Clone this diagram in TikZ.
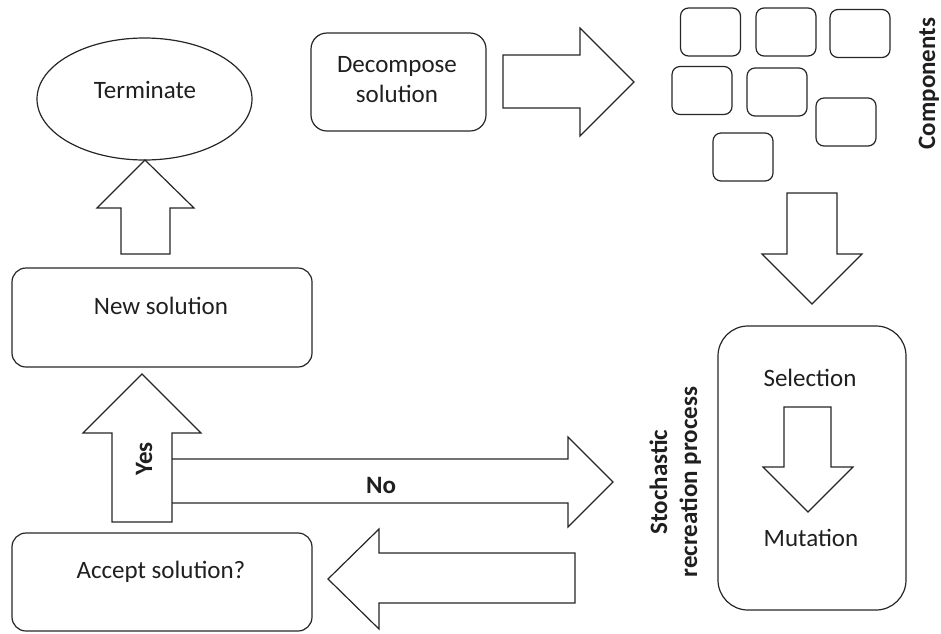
\documentclass[tikz,border=0pt]{standalone}
\usepackage{fontspec}
\setmainfont{Carlito}
\usetikzlibrary{shapes.geometric}
\begin{document}
\begin{tikzpicture}[x=1pt, y=-1pt,
  every node/.style={font=\fontsize{25}{30}\selectfont, text=black!88},
  outline/.style={draw=black!85, line width=1.2pt},
  roundbox/.style={outline, rounded corners=14pt, inner sep=0pt},
  piece/.style={outline, rounded corners=8pt, inner sep=0pt,
    minimum width=60pt, minimum height=48pt},
  blockarrow/.style={outline, fill=white, line join=miter},
  caption/.style={anchor=base},
  boldcaption/.style={anchor=base, font=\fontsize{25}{30}\selectfont\bfseries},
]
\useasboundingbox (0,0) rectangle (941,633);

% --- main boxes -------------------------------------------------------
\node[outline, ellipse, minimum width=215pt, minimum height=122pt,
      inner sep=0pt] (term) at (144.5,99) {};
\node[roundbox, minimum width=300pt, minimum height=99pt] (newsol) at (162,317.5) {};
\node[roundbox, rounded corners=16pt, minimum width=175pt, minimum height=98pt]
      (decomp) at (398.5,82) {};
\node[roundbox, minimum width=300pt, minimum height=98pt] (accept) at (162,582) {};
\node[roundbox, rounded corners=30pt, minimum width=188pt, minimum height=284pt]
      (stoch) at (812,468) {};

% --- component pieces -------------------------------------------------
\node[piece] (c1) at (710.5,32) {};
\node[piece] (c2) at (786,32) {};
\node[piece] (c3) at (860,33.5) {};
\node[piece] (c4) at (702,90.5) {};
\node[piece] (c5) at (777,92) {};
\node[piece] (c6) at (846,122) {};
\node[piece] (c7) at (743,157) {};

% --- block arrows -----------------------------------------------------
% new solution -> terminate
\draw[blockarrow] (121,254) -- (121,208) -- (97,208) -- (145,160)
  -- (194,208) -- (170,208) -- (170,254) -- cycle;
% decompose -> components
\draw[blockarrow] (503,55) -- (580,55) -- (580,28) -- (634,82)
  -- (580,136) -- (580,108) -- (503,108) -- cycle;
% components -> stochastic recreation
\draw[blockarrow] (787,193) -- (837,193) -- (837,254) -- (862,254)
  -- (812,304) -- (762,254) -- (787,254) -- cycle;
% selection -> mutation
\draw[blockarrow] (784,407) -- (831,407) -- (831,467) -- (853,467)
  -- (808,512) -- (763,467) -- (784,467) -- cycle;
% recreation -> accept
\draw[blockarrow] (575,553) -- (379,553) -- (379,529) -- (328,579)
  -- (379,629) -- (379,603) -- (575,603) -- cycle;
% accept -> new solution (yes)
\draw[blockarrow] (112,522) -- (112,433) -- (83,433) -- (142,374)
  -- (201,433) -- (172,433) -- (172,522) -- cycle;
% accept -> recreation (no), opening into the yes shaft
\draw[blockarrow, fill=none] (172,459) -- (568,459) -- (568,437) -- (613,482)
  -- (568,527) -- (568,503) -- (172,503);

% --- texts ------------------------------------------------------------
\node[caption] (termtxt) at (145,98) {Terminate};
\node[caption] (newsoltxt) at (161,314) {New solution};
\node[caption] (decomptxta) at (397,72) {Decompose};
\node[caption] (decomptxtb) at (397,102) {solution};
\node[caption] (accepttxt) at (161,578) {Accept solution?};
\node[caption] (seltxt) at (810,386) {Selection};
\node[caption] (muttxt) at (811,546) {Mutation};
\node[boldcaption] (notxt) at (381,493) {No};
\node[boldcaption, rotate=90] (yestxt) at (152,459) {Yes};
\node[boldcaption, rotate=90] (comptxt) at (935,83.5) {Components};
\node[boldcaption, rotate=90] (stochtxta) at (667,482) {Stochastic};
\node[boldcaption, rotate=90] (stochtxtb) at (697,482) {recreation process};
\end{tikzpicture}
\end{document}
